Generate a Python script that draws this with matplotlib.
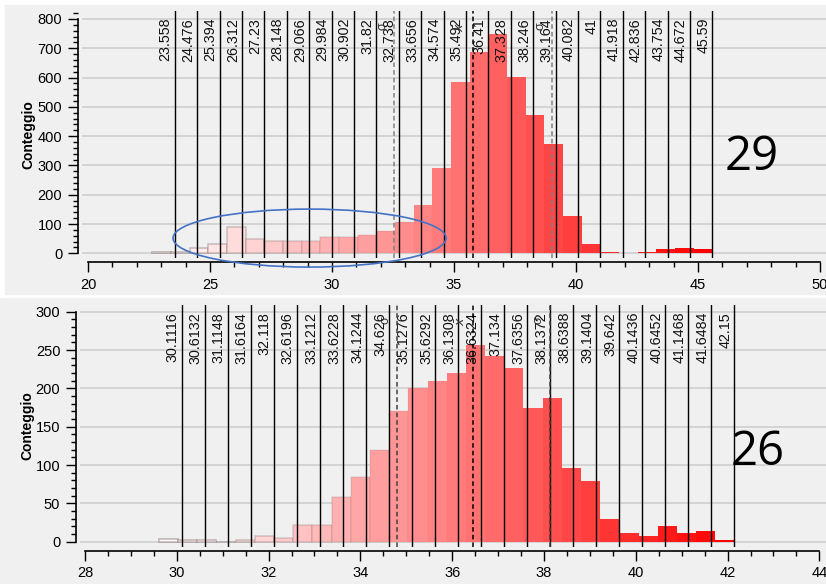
import matplotlib
matplotlib.use('Agg')
import matplotlib.pyplot as plt
from matplotlib.patches import Ellipse, Rectangle
from matplotlib.ticker import MultipleLocator
import numpy as np

plt.rcParams['font.family'] = ['Liberation Sans', 'DejaVu Sans']

# ---pannello 29
top_min, top_max = 22.64, 45.59
top_counts = [4, 4, 17, 32, 91, 49, 42, 43, 43, 57, 57, 61, 76, 107, 164, 290,
              585, 686, 748, 601, 471, 374, 127, 31, 5, 0, 5, 15, 19, 14]
top_breaks = [23.558, 24.476, 25.394, 26.312, 27.23, 28.148, 29.066, 29.984,
              30.902, 31.82, 32.738, 33.656, 34.574, 35.492, 36.41, 37.328,
              38.246, 39.164, 40.082, 41.0, 41.918, 42.836, 43.754, 44.672, 45.59]
top_mean, top_std = 35.78, 3.25

# ---pannello 26
bot_min, bot_max = 29.61, 42.15
bot_counts = [4, 2, 2, 0, 2, 7, 5, 22, 22, 58, 84, 120, 171, 200, 209, 220,
              256, 242, 227, 174, 187, 96, 79, 30, 11, 7, 21, 11, 14, 2]
bot_breaks = [30.1116, 30.6132, 31.1148, 31.6164, 32.118, 32.6196, 33.1212,
              33.6228, 34.1244, 34.626, 35.1276, 35.6292, 36.1308, 36.6324,
              37.134, 37.6356, 38.1372, 38.6388, 39.1404, 39.642, 40.1436,
              40.6452, 41.1468, 41.6484, 42.15]
bot_mean, bot_std = 36.458, 1.67

W, H = 826, 584
fig = plt.figure(figsize=(W / 100, H / 100), dpi=100)

# sfondi grigi dei due pannelli
fig.patches.append(Rectangle((5 / W, 1 - 294 / H), 821 / W, 289 / H,
                             transform=fig.transFigure, color='#f0f0f0', zorder=-10))
fig.patches.append(Rectangle((0, 0), 1, 286 / H,
                             transform=fig.transFigure, color='#f0f0f0', zorder=-10))


def pannello(ax, lo, hi, counts, breaks, mean, std, xlim, ylim, xmaj, xmin_,
             ymaj, ymin_, sig_col):
    n = len(counts)
    edges = np.linspace(lo, hi, n + 1)
    t = np.arange(n) / (n - 1)
    fills = [(1, 1 - v, 1 - v) for v in t]
    ecols = [(0.5, 0.4, 0.4, max(0.0, 0.45 - 0.9 * v)) for v in t]
    ax.bar(edges[:-1], counts, width=np.diff(edges), align='edge',
           color=fills, edgecolor=ecols, linewidth=1.2, zorder=2)

    for b in breaks:
        ax.axvline(b, color='black', lw=1, zorder=3)
        ax.annotate(f'{b:g}', xy=(b, 1), xycoords=('data', 'axes fraction'),
                    xytext=(-1.5, -5), textcoords='offset points', rotation=90,
                    ha='right', va='top', fontsize=10.3, color='#111111')

    # media e deviazione standard
    ax.axvline(mean - std, color=sig_col, ls=(0, (3, 2)), lw=1.1, zorder=3)
    ax.axvline(mean + std, color=sig_col, ls=(0, (3, 2)), lw=1.1, zorder=3)
    ax.axvline(mean, color='black', ls=(0, (3, 2)), lw=1.1, zorder=3)
    for v, s in [(mean - std, 'σ'), (mean, r'$\bar{x}$'), (mean + std, 'σ')]:
        ax.annotate(s, xy=(v, 1), xycoords=('data', 'axes fraction'),
                    xytext=(-4, -8), textcoords='offset points', rotation=90,
                    ha='right', va='top', fontsize=9, color='#333333')

    ax.set_xlim(*xlim)
    ax.set_ylim(*ylim)
    ax.set_facecolor('none')
    ax.set_axisbelow(True)
    ax.yaxis.grid(True, color='#d2d2d2', lw=1.3)
    for s in ['top', 'right']:
        ax.spines[s].set_visible(False)
    ax.spines['left'].set_position(('outward', 3))
    ax.spines['bottom'].set_position(('outward', 3))
    ax.spines['left'].set_bounds(0, ylim[1] - (ylim[1] % ymaj))
    ax.spines['bottom'].set_bounds(np.ceil(xlim[0]), np.floor(xlim[1]))
    ax.xaxis.set_major_locator(MultipleLocator(xmaj))
    ax.xaxis.set_minor_locator(MultipleLocator(xmin_))
    ax.yaxis.set_major_locator(MultipleLocator(ymaj))
    ax.yaxis.set_minor_locator(MultipleLocator(ymin_))
    ax.tick_params(which='major', length=7.2, width=1, labelsize=10.5, pad=4)
    ax.tick_params(which='minor', length=3.8, width=1)
    for s in ['left', 'bottom']:
        ax.spines[s].set_linewidth(1.2)


ax1 = fig.add_axes([82 / W, 1 - 258.3 / H, 744 / W, 247.3 / H])
pannello(ax1, top_min, top_max, top_counts, top_breaks, top_mean, top_std,
         (19.754, 50.246), (-17, 827.3), 5, 1, 100, 20, '#808080')
ax1.set_xticks(np.arange(20, 51, 5))
ax1.add_patch(Ellipse((29.08, 52), 11.19, 198, fill=False, ec='#4472c4',
                      lw=1.2, clip_on=False, zorder=6))

ax2 = fig.add_axes([80 / W, 1 - 546.7 / H, 746 / W, 241.7 / H])
pannello(ax2, bot_min, bot_max, bot_counts, bot_breaks, bot_mean, bot_std,
         (27.891, 44.144), (-6.5, 308.7), 2, 0.5, 50, 10, '#404040')
ax2.set_xticks(np.arange(28, 45, 2))

fig.text(28 / W, 1 - 135 / H, 'Conteggio', rotation=90, fontsize=10,
         fontweight='bold', ha='center', va='center')
fig.text(27 / W, 1 - 426 / H, 'Conteggio', rotation=90, fontsize=10,
         fontweight='bold', ha='center', va='center')

fig.text(752 / W, 1 - 170 / H, '29', fontsize=34, family='Open Sans',
         ha='center', va='baseline')
fig.text(758 / W, 1 - 465 / H, '26', fontsize=34, family='Open Sans',
         ha='center', va='baseline')

fig.savefig('out.png', dpi=100)
